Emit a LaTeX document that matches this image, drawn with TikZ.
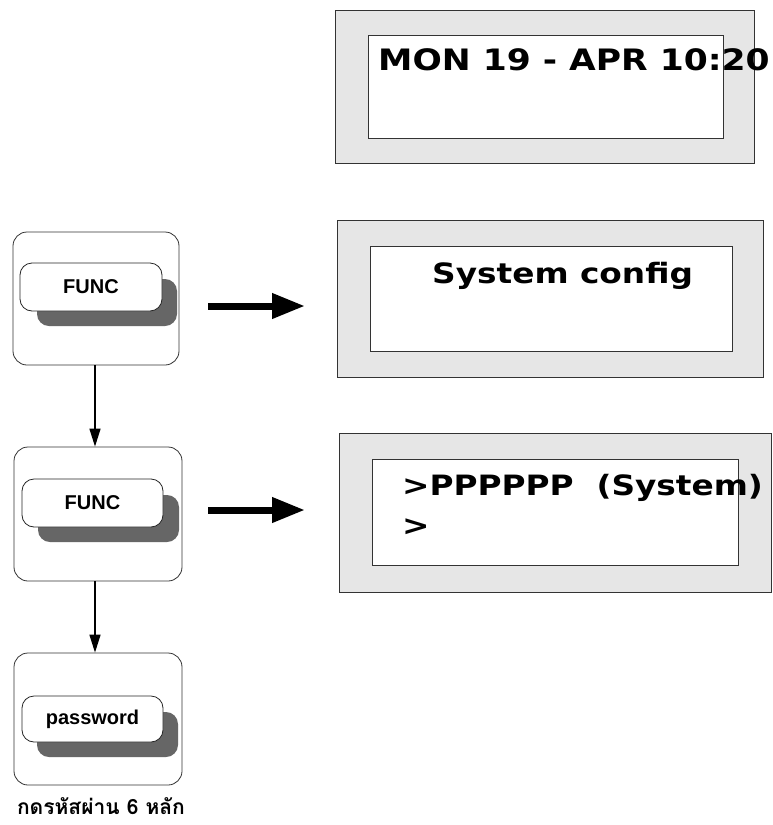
\documentclass[tikz,border=0pt]{standalone}
\usepackage{fontspec}
\usepackage{graphicx}
\usetikzlibrary{arrows.meta}
\setmainfont{Liberation Sans}
\newfontfamily\lcdfont{DejaVu Sans}
\newfontfamily\thaifont[Script=Thai]{Loma}
\newcommand{\lcd}[2]{\scalebox{1.17}[1]{\fontsize{#1}{#1}\lcdfont\bfseries #2}}
\definecolor{lcdgray}{HTML}{E6E6E6}
\definecolor{shadowgray}{HTML}{666666}
\tikzset{
  panelbox/.style={draw=black!80, line width=0.8pt, fill=white, rounded corners=14pt, inner sep=0pt},
  keybox/.style={draw=black!85, line width=0.8pt, fill=white, rounded corners=12pt, inner sep=0pt, font=\fontsize{20}{20}\selectfont\bfseries},
  keyshadow/.style={fill=shadowgray, rounded corners=12pt, inner sep=0pt},
  lcdouter/.style={draw=black!80, line width=0.8pt, fill=lcdgray, inner sep=0pt},
  lcdinner/.style={draw=black!80, line width=0.8pt, fill=white, inner sep=0pt},
  lcdtext/.style={anchor=base west, inner sep=0pt},
  bigarrow/.style={line width=7pt, -{Triangle[length=33pt,width=24pt]}},
  downarrow/.style={line width=1.4pt, -{Triangle[length=18pt,width=11pt]}},
}
\begin{document}
\begin{tikzpicture}[x=1pt,y=-1pt]
\useasboundingbox (0,0) rectangle (773,825);

% LCD displays
\node[lcdouter, minimum width=419pt, minimum height=153pt] (d1) at (544.5,86.5) {};
\node[lcdinner, minimum width=355pt, minimum height=103pt] (d1i) at (545.5,86.5) {};
\node[lcdtext] (t1) at (378,70) {\lcd{29.5}{MON 19 - APR 10:20}};

\node[lcdouter, minimum width=426pt, minimum height=157pt] (d2) at (550,298.5) {};
\node[lcdinner, minimum width=362pt, minimum height=105pt] (d2i) at (551,298.5) {};
\node[lcdtext] (t2) at (432,283) {\lcd{28}{System config}};

\node[lcdouter, minimum width=432pt, minimum height=159pt] (d3) at (555,512.5) {};
\node[lcdinner, minimum width=366pt, minimum height=106pt] (d3i) at (555,512) {};
\node[lcdtext] (t3a) at (402,495) {\lcd{28}{>PPPPPP\ \ (System)}};
\node[lcdtext] (t3b) at (402,535) {\lcd{28}{>}};

% left panels
\node[panelbox, minimum width=166pt, minimum height=133pt] (p1) at (96,298.5) {};
\node[keyshadow, minimum width=140pt, minimum height=47pt] (s1) at (107,302.5) {};
\node[keybox, minimum width=142pt, minimum height=48pt] (k1) at (91,287) {FUNC};

\node[panelbox, minimum width=168pt, minimum height=134pt] (p2) at (98,514) {};
\node[keyshadow, minimum width=141pt, minimum height=47pt] (s2) at (108.5,518.5) {};
\node[keybox, minimum width=141pt, minimum height=48pt] (k2) at (92.5,503) {FUNC};

\node[panelbox, minimum width=168pt, minimum height=132pt] (p3) at (98,719) {};
\node[keyshadow, minimum width=141pt, minimum height=45pt] (s3) at (107.5,734.5) {};
\node[keybox, minimum width=141pt, minimum height=46pt] (k3) at (92.5,719) {password};

\node[anchor=base, inner sep=0pt] (cap) at (101,814) {\thaifont\fontsize{21}{21}\selectfont\bfseries กดรหัสผ่าน 6 หลัก};

% arrows
\coordinate (a1s) at (208,306);
\coordinate (a1e) at (305,306);
\coordinate (a2s) at (208,510);
\coordinate (a2e) at (305,510);
\draw[bigarrow] (a1s) -- (a1e);
\draw[bigarrow] (a2s) -- (a2e);
\draw[downarrow] (p1.south -| 95,0) -- (p2.north -| 95,0);
\draw[downarrow] (p2.south -| 95,0) -- (p3.north -| 95,0);
\end{tikzpicture}
\end{document}
